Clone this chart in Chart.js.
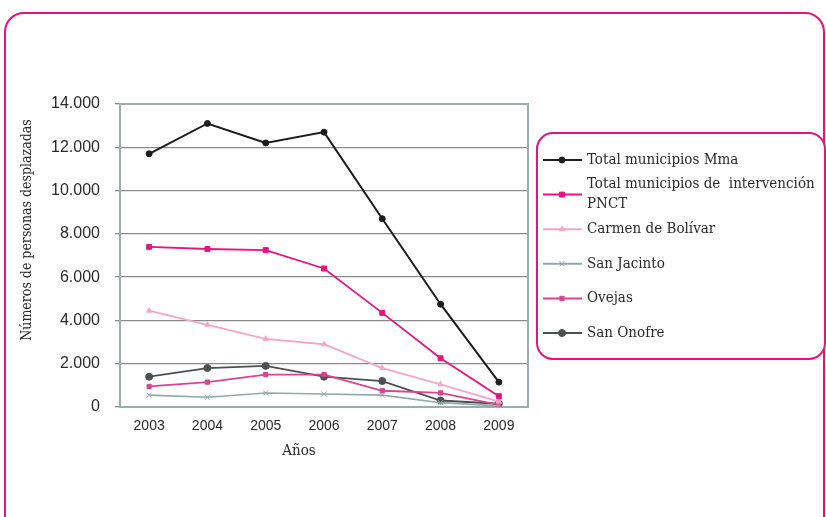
<!DOCTYPE html>
<html>
<head>
<meta charset="utf-8">
<script src="https://cdn.jsdelivr.net/npm/chart.js@4"></script>
<style>
  html, body { margin: 0; padding: 0; background: #ffffff; }
  #wrap { position: relative; width: 826px; height: 517px; overflow: hidden; }
  #frame {
    position: absolute; left: 4px; top: 12px; width: 821px; height: 560px;
    box-sizing: border-box; border: 2px solid #e5127f; border-radius: 20px;
  }
  canvas { position: absolute; left: 0; top: 0; }
</style>
</head>
<body>
<div id="wrap">
  <div id="frame"></div>
  <canvas id="chart" width="826" height="517"></canvas>
</div>
<script>
// Años
const years = ['2003', '2004', '2005', '2006', '2007', '2008', '2009'];

// Personas desplazadas por serie
const totalMma      = [11700, 13100, 12200, 12700, 8700, 4750, 1150];
const totalPNCT     = [7400, 7300, 7250, 6400, 4350, 2250, 500];
const carmenBolivar = [4450, 3800, 3150, 2900, 1800, 1050, 250];
const sanJacinto    = [550, 450, 650, 600, 550, 200, 50];
const ovejas        = [950, 1150, 1500, 1500, 750, 650, 100];
const sanOnofre     = [1400, 1800, 1900, 1400, 1200, 300, 150];

const seriesNames = [
  'Total municipios Mma',
  'Total municipios de  intervención PNCT',
  'Carmen de Bolívar',
  'San Jacinto',
  'Ovejas',
  'San Onofre'
];

// Eje Y
const yTicks = [0, 2000, 4000, 6000, 8000, 10000, 12000, 14000];

const SERIF = '"DejaVu Serif Condensed", "DejaVu Serif", serif';
const SANS = '"Liberation Sans", Arial, sans-serif';

function fmt(n) {
  return String(n).replace(/\B(?=(\d{3})+(?!\d))/g, '.');
}

function series(label, data, color, style, radius, width) {
  return {
    label, data,
    borderColor: color, backgroundColor: color,
    pointBackgroundColor: color, pointBorderColor: color,
    pointStyle: style, pointRadius: radius, pointBorderWidth: 1,
    borderWidth: width, tension: 0
  };
}

const datasets = [
  series(seriesNames[0], totalMma, '#1c1c1c', 'circle', 3, 2),
  series(seriesNames[1], totalPNCT, '#e8137f', 'rect', 3.5, 1.8),
  series(seriesNames[2], carmenBolivar, '#f4a6c9', 'triangle', 3, 1.8),
  series(seriesNames[3], sanJacinto, '#8ea9a9', 'crossRot', 3.5, 1.6),
  series(seriesNames[4], ovejas, '#d8448f', 'rect', 3, 1.8),
  series(seriesNames[5], sanOnofre, '#4b5152', 'circle', 3.5, 1.8)
];

// Marco del área de trazado
const plotFrame = {
  id: 'plotFrame',
  beforeDatasetsDraw(chart) {
    const { ctx, chartArea: a } = chart;
    ctx.save();
    ctx.strokeStyle = '#9aaeae';
    ctx.lineWidth = 2;
    ctx.strokeRect(a.left, a.top, a.right - a.left, a.bottom - a.top);
    ctx.restore();
  }
};

// Títulos de los ejes
const axisTitles = {
  id: 'axisTitles',
  afterDraw(chart) {
    const { ctx } = chart;
    ctx.save();
    ctx.fillStyle = '#2a2a2a';
    ctx.textAlign = 'center';
    ctx.textBaseline = 'middle';
    ctx.font = '15px ' + SERIF;
    ctx.fillText('Años', 299, 451);
    ctx.font = '14px ' + SERIF;
    ctx.translate(27, 230);
    ctx.rotate(-Math.PI / 2);
    ctx.fillText('Números de personas desplazadas', 0, 0);
    ctx.restore();
  }
};

// Leyenda en recuadro redondeado
const boxLegend = {
  id: 'boxLegend',
  afterDraw(chart) {
    const { ctx } = chart;
    const box = { x: 537, y: 133, w: 288, h: 226, r: 16 };
    ctx.save();
    ctx.fillStyle = '#ffffff';
    ctx.strokeStyle = '#e5127f';
    ctx.lineWidth = 2;
    ctx.beginPath();
    ctx.roundRect(box.x, box.y, box.w, box.h, box.r);
    ctx.fill();
    ctx.stroke();

    ctx.font = '15px ' + SERIF;
    ctx.textBaseline = 'middle';
    ctx.textAlign = 'left';
    const maxW = 236;
    const step = 34.6;
    chart.data.datasets.forEach((ds, i) => {
      const cy = 160 + i * step;
      // línea y marcador
      ctx.strokeStyle = ds.borderColor;
      ctx.fillStyle = ds.borderColor;
      ctx.lineWidth = 2;
      ctx.beginPath();
      ctx.moveTo(543, cy);
      ctx.lineTo(582, cy);
      ctx.stroke();
      ctx.lineWidth = 1;
      Chart.helpers.drawPoint(ctx, {
        pointStyle: ds.pointStyle, radius: ds.pointRadius, borderWidth: 1, rotation: 0
      }, 562, cy);
      // texto con ajuste de línea
      const words = ds.label.split(' ');
      const lines = [];
      let cur = '';
      words.forEach(w => {
        const t = cur === '' ? w : cur + ' ' + w;
        if (ctx.measureText(t).width > maxW && cur !== '') { lines.push(cur); cur = w; }
        else cur = t;
      });
      lines.push(cur);
      ctx.fillStyle = '#2a2a2a';
      const lh = 20;
      lines.forEach((ln, k) => {
        ctx.fillText(ln, 587, cy + (k - (lines.length - 1) / 2) * lh);
      });
    });
    ctx.restore();
  }
};

new Chart(document.getElementById('chart'), {
  type: 'line',
  data: { labels: years, datasets },
  plugins: [plotFrame, axisTitles, boxLegend],
  options: {
    responsive: false,
    animation: false,
    devicePixelRatio: 1,
    layout: { padding: { left: 50, right: 298, top: 104, bottom: 0 } },
    plugins: { legend: { display: false }, tooltip: { enabled: false } },
    scales: {
      x: {
        offset: true,
        grid: { drawOnChartArea: false, drawTicks: false },
        border: { color: '#9aaeae', width: 2 },
        ticks: { color: '#2a2a2a', font: { family: SANS, size: 14 }, padding: 11 },
        afterFit(scale) { scale.height = 110; }
      },
      y: {
        min: 0, max: 14000,
        afterBuildTicks(scale) { scale.ticks = yTicks.map(v => ({ value: v })); },
        grid: { color: '#8a8a8a', lineWidth: 1.3, tickLength: 5 },
        border: { color: '#9aaeae', width: 2 },
        ticks: {
          color: '#2a2a2a', font: { family: SANS, size: 16 }, padding: 15,
          callback: v => fmt(v)
        },
        afterFit(scale) { scale.width = 70; }
      }
    }
  }
});
</script>
</body>
</html>
